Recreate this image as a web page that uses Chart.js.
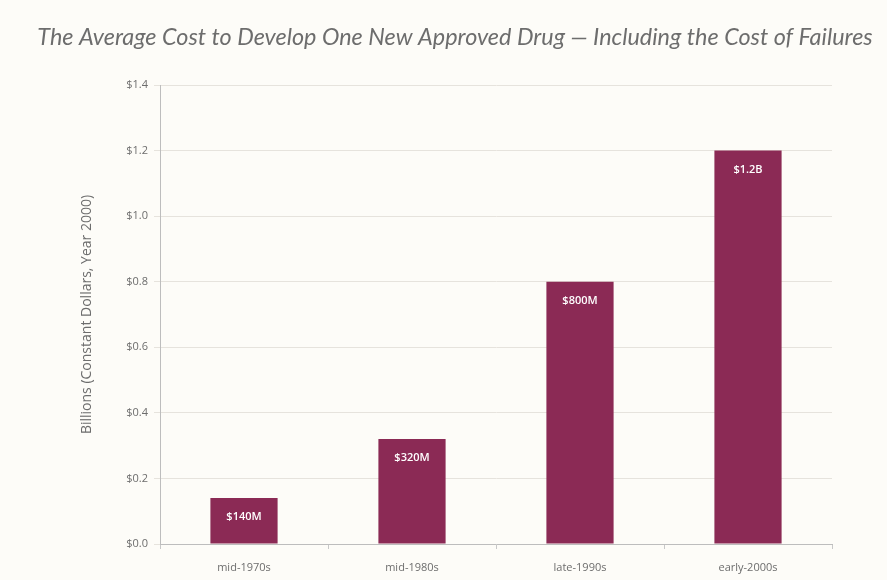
<!DOCTYPE html>
<html>
<head>
<meta charset="utf-8">
<script src="https://cdn.jsdelivr.net/npm/chart.js@4/dist/chart.umd.min.js"></script>
<style>
  html, body { margin: 0; padding: 0; background: #fdfcf8; }
  #wrap { width: 887px; height: 580px; }
</style>
</head>
<body>
<div id="wrap"><canvas id="canvas" width="887" height="580"></canvas></div>
<script>
// Chart data
const periods = ['mid-1970s', 'mid-1980s', 'late-1990s', 'early-2000s'];
const costBillions = [0.14, 0.32, 0.80, 1.2];
const costLabels = ['$140M', '$320M', '$800M', '$1.2B'];
const yTicks = [0, 0.2, 0.4, 0.6, 0.8, 1.0, 1.2, 1.4];
const chartTitle = 'The Average Cost to Develop One New Approved Drug \u2014 Including the Cost of Failures';

const barColor = '#8b2a55';
const textGray = '#6d6d6d';

// writes the cost label in white near the top of each bar
const barLabels = {
  id: 'barLabels',
  afterDatasetsDraw(chart) {
    const ctx = chart.ctx;
    const meta = chart.getDatasetMeta(0);
    ctx.save();
    ctx.fillStyle = '#ffffff';
    ctx.font = '600 11px "Open Sans", sans-serif';
    ctx.textAlign = 'center';
    ctx.textBaseline = 'middle';
    meta.data.forEach((bar, i) => {
      ctx.fillText(costLabels[i], bar.x, bar.y + 19);
    });
    ctx.restore();
  }
};

// title across the full width (the built-in one gets squeezed to the padded box)
const wideTitle = {
  id: 'wideTitle',
  afterDraw(chart) {
    const ctx = chart.ctx;
    ctx.save();
    ctx.fillStyle = textGray;
    ctx.font = 'italic 23.4px Lato, sans-serif';
    ctx.textAlign = 'center';
    ctx.textBaseline = 'middle';
    ctx.fillText(chartTitle, 455, 37);
    ctx.restore();
  }
};

const ctx = document.getElementById('canvas').getContext('2d');

new Chart(ctx, {
  type: 'bar',
  data: {
    labels: periods,
    datasets: [{
      data: costBillions,
      backgroundColor: barColor,
      borderWidth: 0,
      categoryPercentage: 1,
      barPercentage: 0.4
    }]
  },
  options: {
    responsive: false,
    animation: false,
    layout: { padding: { top: 85, right: 55, bottom: 0, left: 75 } },
    plugins: {
      legend: { display: false },
      tooltip: { enabled: false },
      title: { display: false }
    },
    scales: {
      x: {
        afterFit(scale) { scale.height = 36; },
        grid: { display: true, drawOnChartArea: false, tickLength: 5, color: '#c8c8c8', offset: true },
        border: { color: '#bdbdbd' },
        ticks: { color: textGray, font: { family: '"Open Sans", sans-serif', size: 11 }, padding: 12 }
      },
      y: {
        min: 0,
        max: 1.4,
        afterBuildTicks(scale) {
          scale.ticks = yTicks.map(v => ({ value: v }));
        },
        afterFit(scale) { scale.width = 85; },
        grid: { color: '#e6e3dd', tickLength: 6 },
        border: { color: '#bdbdbd' },
        ticks: {
          color: textGray,
          font: { family: '"Open Sans", sans-serif', size: 11 },
          padding: 6,
          callback: v => '$' + Number(v).toFixed(1)
        },
        title: {
          display: true,
          text: 'Billions (Constant Dollars, Year 2000)',
          color: textGray,
          font: { family: '"Open Sans", sans-serif', size: 14 },
          padding: { bottom: 6 }
        }
      }
    }
  },
  plugins: [barLabels, wideTitle]
});
</script>
</body>
</html>
